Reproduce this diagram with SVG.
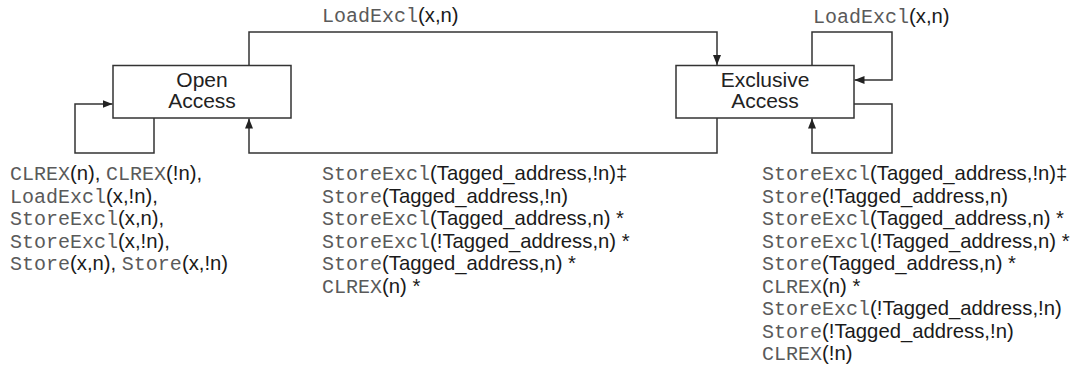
<svg xmlns="http://www.w3.org/2000/svg" width="1091" height="386" viewBox="0 0 1091 386">
<style>
.box{fill:#fff;stroke:#333;stroke-width:1.5}
.ln{fill:none;stroke:#333;stroke-width:1.5}
.lbl{font-family:"Liberation Sans",Arial,sans-serif;font-size:21px;fill:#222;text-anchor:middle}
.t{font-family:"Liberation Sans",Arial,sans-serif;font-size:20.3px;fill:#1a1a1a}
.m{font-family:"Liberation Mono","Courier New",monospace;font-size:20px;fill:#5a5a5a}
</style>
<defs>
<marker id="ah" viewBox="0 0 10 10" refX="10" refY="5" markerWidth="10" markerHeight="10" markerUnits="userSpaceOnUse" orient="auto">
<path d="M0,1 L10,5 L0,9 z" fill="#222"/>
</marker>
</defs>
<rect width="1091" height="386" fill="#fff"/>
<g id="connectors">
<path class="ln" d="M249,65.5 V32 H717 V65" marker-end="url(#ah)"/>
<path class="ln" d="M717,118 V153 H249 V118.5" marker-end="url(#ah)"/>
<path class="ln" d="M154,118 V153 H75 V104 H112.5" marker-end="url(#ah)"/>
<path class="ln" d="M812,65.5 V32 H892 V80 H854.5" marker-end="url(#ah)"/>
<path class="ln" d="M854,104 H892 V153 H812 V118.5" marker-end="url(#ah)"/>
</g>
<g id="open-access">
<rect class="box" x="113" y="65.5" width="178" height="52.5"/>
<text class="lbl" x="202" y="87">Open</text>
<text class="lbl" x="202" y="108">Access</text>
</g>
<g id="exclusive-access">
<rect class="box" x="676" y="65.5" width="178" height="52.5"/>
<text class="lbl" x="765" y="87">Exclusive</text>
<text class="lbl" x="765" y="108">Access</text>
</g>
<g id="labels">
<text class="t" x="322" y="22"><tspan class="m">LoadExcl</tspan>(x,n)</text>
<text class="t" x="813" y="23"><tspan class="m">LoadExcl</tspan>(x,n)</text>
<text class="t" x="10" y="180"><tspan class="m">CLREX</tspan>(n), <tspan class="m">CLREX</tspan>(!n),</text>
<text class="t" x="10" y="202.5"><tspan class="m">LoadExcl</tspan>(x,!n),</text>
<text class="t" x="10" y="225"><tspan class="m">StoreExcl</tspan>(x,n),</text>
<text class="t" x="10" y="247.5"><tspan class="m">StoreExcl</tspan>(x,!n),</text>
<text class="t" x="10" y="270"><tspan class="m">Store</tspan>(x,n), <tspan class="m">Store</tspan>(x,!n)</text>
<text class="t" x="322" y="180"><tspan class="m">StoreExcl</tspan>(Tagged_address,!n)‡</text>
<text class="t" x="322" y="202.5"><tspan class="m">Store</tspan>(Tagged_address,!n)</text>
<text class="t" x="322" y="225"><tspan class="m">StoreExcl</tspan>(Tagged_address,n) *</text>
<text class="t" x="322" y="247.5"><tspan class="m">StoreExcl</tspan>(!Tagged_address,n) *</text>
<text class="t" x="322" y="270"><tspan class="m">Store</tspan>(Tagged_address,n) *</text>
<text class="t" x="322" y="292.5"><tspan class="m">CLREX</tspan>(n) *</text>
<text class="t" x="762" y="180"><tspan class="m">StoreExcl</tspan>(Tagged_address,!n)‡</text>
<text class="t" x="762" y="202.5"><tspan class="m">Store</tspan>(!Tagged_address,n)</text>
<text class="t" x="762" y="225"><tspan class="m">StoreExcl</tspan>(Tagged_address,n) *</text>
<text class="t" x="762" y="247.5"><tspan class="m">StoreExcl</tspan>(!Tagged_address,n) *</text>
<text class="t" x="762" y="270"><tspan class="m">Store</tspan>(Tagged_address,n) *</text>
<text class="t" x="762" y="292.5"><tspan class="m">CLREX</tspan>(n) *</text>
<text class="t" x="762" y="315"><tspan class="m">StoreExcl</tspan>(!Tagged_address,!n)</text>
<text class="t" x="762" y="337.5"><tspan class="m">Store</tspan>(!Tagged_address,!n)</text>
<text class="t" x="762" y="360"><tspan class="m">CLREX</tspan>(!n)</text>
</g>
</svg>
